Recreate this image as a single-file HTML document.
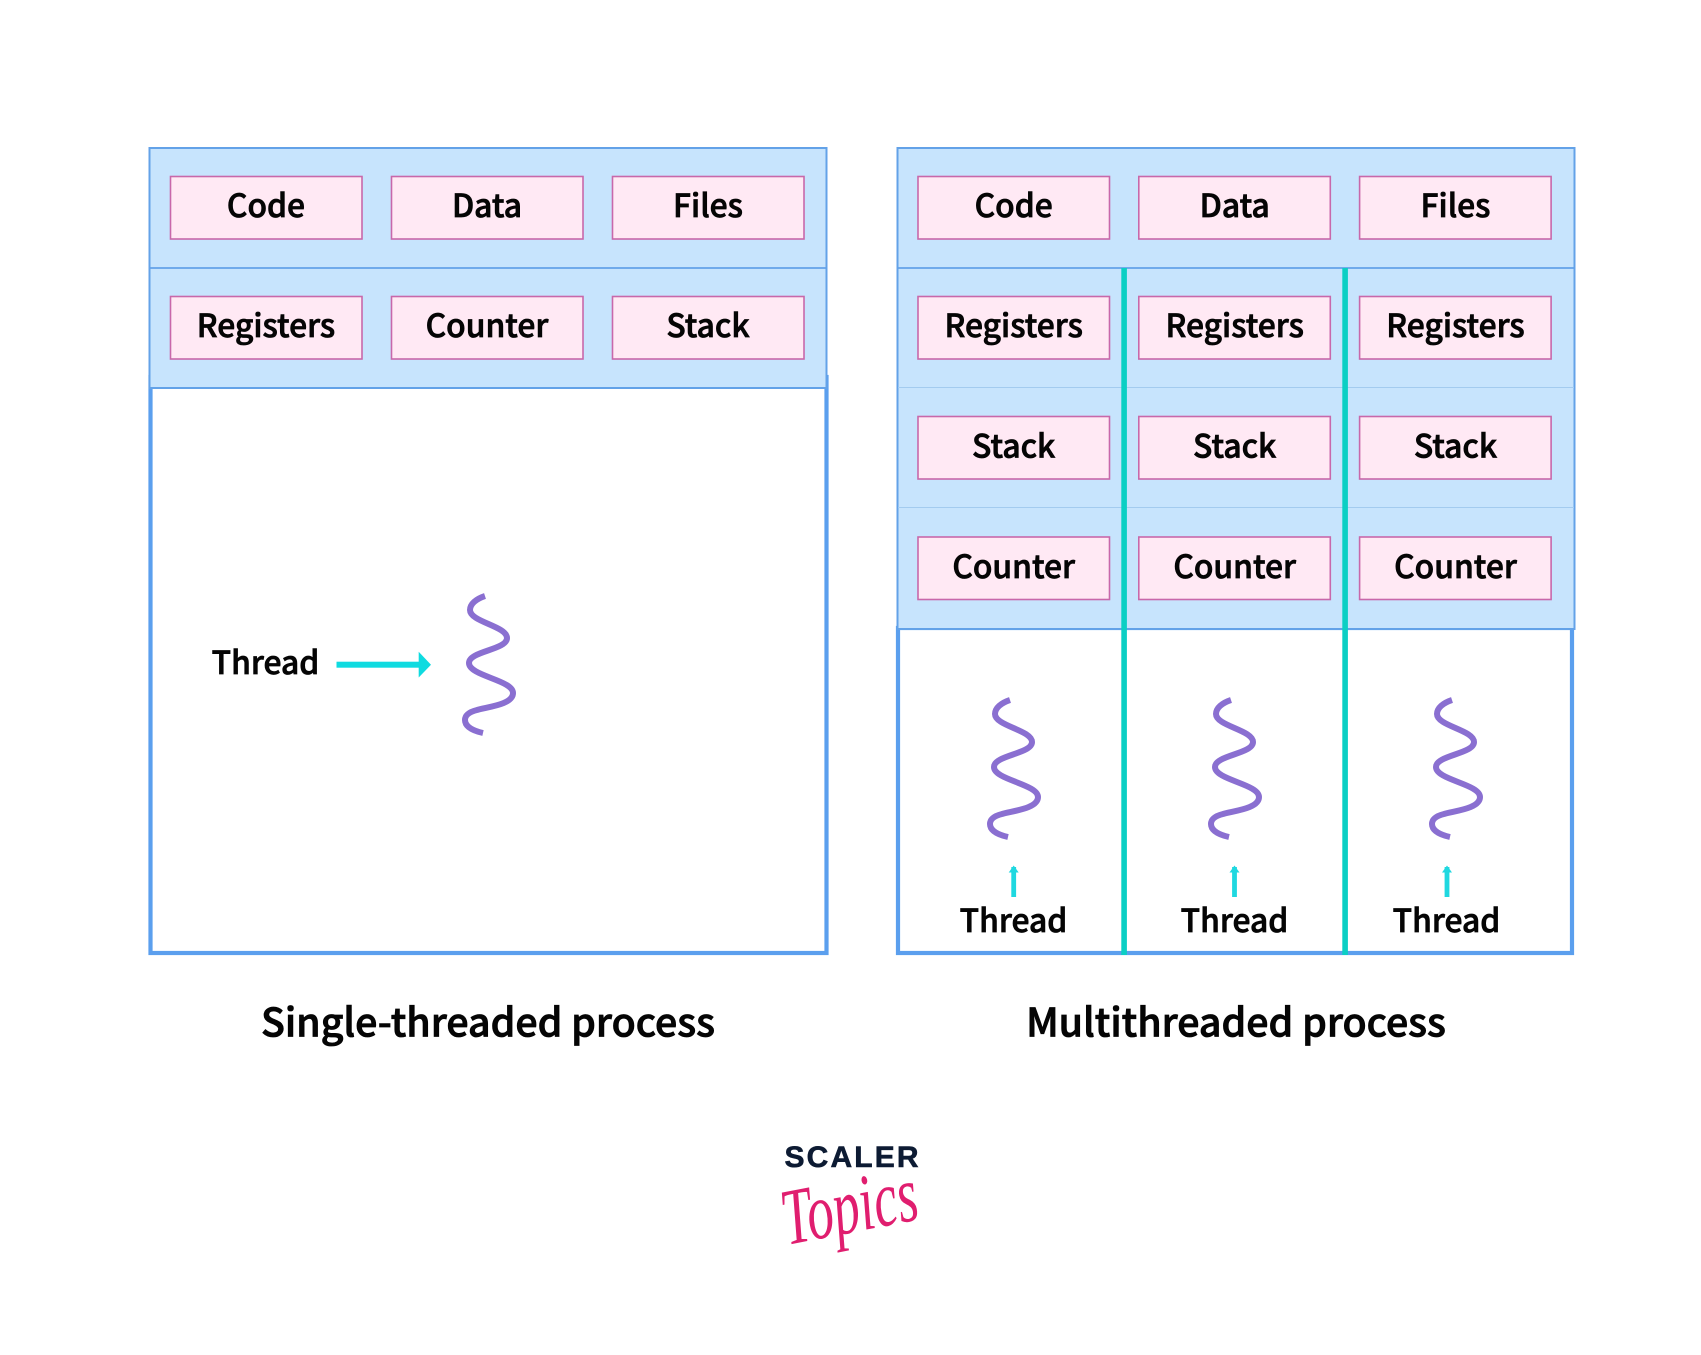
<!DOCTYPE html>
<html><head><meta charset="utf-8"><style>
html,body{margin:0;padding:0;background:#fff}
svg{display:block}
text{font-family:"Liberation Sans","Noto Sans CJK JP",sans-serif}
.n{font-family:"Noto Sans CJK JP","Liberation Sans",sans-serif;font-weight:500;fill:#050505;stroke:#050505;text-anchor:middle}
.l{font-size:31.8px;stroke-width:.75px}
.t{font-size:39.3px;stroke-width:.85px}
.b{fill:#ffe9f4;stroke:#c868aa;stroke-width:1.6}
.w{fill:none;stroke:#8a6fd1;stroke-width:6}
</style></head><body>
<svg width="1701" height="1355" viewBox="0 0 1701 1355" xmlns="http://www.w3.org/2000/svg">
<defs>
<path id="wave" d="M485 596C476 599 470 604 470 610C470 622 507 626 507 638C507 650 469 651 469 663C469 676 513 680 513 693C513 705 486 707 477 710C469 712 465 715 465 720C465 727 474 731 483 733"/>
<g id="up"><rect x="-2.4" y="-30" width="4.8" height="30" fill="#1fd8e0"/><path d="M0-31.5l5 7h-10z" fill="#1fd8e0"/></g>
</defs>
<rect width="1701" height="1355" fill="#fff"/>

<!-- Left panel -->
<rect x="150.5" y="377" width="676" height="576" fill="#fff" stroke="#5b9fee" stroke-width="4.2"/>
<rect x="149.5" y="148" width="677" height="240" fill="#c7e4fd" stroke="#63a2e8" stroke-width="2"/>
<line x1="149" y1="268" x2="827" y2="268" stroke="#63a2e8" stroke-width="1.8"/>
<rect class="b" x="170.5" y="176.5" width="191.5" height="62.5"/>
<rect class="b" x="391.5" y="176.5" width="191.5" height="62.5"/>
<rect class="b" x="612.5" y="176.5" width="191.5" height="62.5"/>
<rect class="b" x="170.5" y="296.5" width="191.5" height="62.5"/>
<rect class="b" x="391.5" y="296.5" width="191.5" height="62.5"/>
<rect class="b" x="612.5" y="296.5" width="191.5" height="62.5"/>
<text class="n l" x="266" y="217">Code</text>
<text class="n l" x="487" y="217">Data</text>
<text class="n l" x="708" y="217">Files</text>
<text class="n l" x="266" y="337">Registers</text>
<text class="n l" x="487" y="337">Counter</text>
<text class="n l" x="708" y="337">Stack</text>
<text class="n l" x="265.5" y="674">Thread</text>
<rect x="336.5" y="661.7" width="84" height="6" fill="#0fdbe0"/>
<path d="M418.7 651.7L431 664.7L418.7 677.5Z" fill="#0fdbe0"/>
<use href="#wave" class="w"/>

<!-- Right panel -->
<rect x="898" y="628" width="674" height="325" fill="#fff" stroke="#5b9fee" stroke-width="4.2"/>
<rect x="897.5" y="148" width="677" height="481" fill="#c7e4fd" stroke="#63a2e8" stroke-width="2"/>
<line x1="897" y1="268" x2="1575" y2="268" stroke="#63a2e8" stroke-width="1.8"/>
<line x1="898" y1="387.5" x2="1574" y2="387.5" stroke="#a3cbef" stroke-width="1"/>
<line x1="898" y1="507.5" x2="1574" y2="507.5" stroke="#a3cbef" stroke-width="1"/>
<rect x="1121.3" y="268" width="5.6" height="687" fill="#0bcfc4"/>
<rect x="1342.3" y="268" width="5.6" height="687" fill="#0bcfc4"/>

<rect class="b" x="918" y="176.5" width="191.5" height="62.5"/>
<rect class="b" x="1138.8" y="176.5" width="191.5" height="62.5"/>
<rect class="b" x="1359.6" y="176.5" width="191.5" height="62.5"/>
<rect class="b" x="918" y="296.5" width="191.5" height="62.5"/>
<rect class="b" x="1138.8" y="296.5" width="191.5" height="62.5"/>
<rect class="b" x="1359.6" y="296.5" width="191.5" height="62.5"/>
<rect class="b" x="918" y="416.5" width="191.5" height="62.5"/>
<rect class="b" x="1138.8" y="416.5" width="191.5" height="62.5"/>
<rect class="b" x="1359.6" y="416.5" width="191.5" height="62.5"/>
<rect class="b" x="918" y="537" width="191.5" height="62.5"/>
<rect class="b" x="1138.8" y="537" width="191.5" height="62.5"/>
<rect class="b" x="1359.6" y="537" width="191.5" height="62.5"/>

<text class="n l" x="1013.7" y="217">Code</text>
<text class="n l" x="1234.7" y="217">Data</text>
<text class="n l" x="1455.5" y="217">Files</text>
<text class="n l" x="1013.7" y="337">Registers</text>
<text class="n l" x="1234.7" y="337">Registers</text>
<text class="n l" x="1455.5" y="337">Registers</text>
<text class="n l" x="1013.7" y="457.5">Stack</text>
<text class="n l" x="1234.7" y="457.5">Stack</text>
<text class="n l" x="1455.5" y="457.5">Stack</text>
<text class="n l" x="1013.7" y="578">Counter</text>
<text class="n l" x="1234.7" y="578">Counter</text>
<text class="n l" x="1455.5" y="578">Counter</text>

<use href="#wave" class="w" x="525" y="104"/>
<use href="#wave" class="w" x="746" y="104"/>
<use href="#wave" class="w" x="967" y="104"/>
<use href="#up" x="1013.7" y="897"/>
<use href="#up" x="1234.5" y="897"/>
<use href="#up" x="1447" y="897"/>
<text class="n l" x="1013.5" y="932">Thread</text>
<text class="n l" x="1234.5" y="932">Thread</text>
<text class="n l" x="1446.5" y="932">Thread</text>

<text class="n t" x="488" y="1036.5">Single-threaded process</text>
<text class="n t" x="1236" y="1036.5">Multithreaded process</text>

<!-- Logo -->
<text x="784.5" y="1167" font-size="30" font-weight="700" fill="#0d1b33" stroke="#0d1b33" stroke-width=".6" textLength="134" lengthAdjust="spacing" style="font-family:'Liberation Sans',sans-serif">SCALER</text>
<text transform="translate(787 1245) rotate(-11)" font-size="80" fill="#e01e6f" textLength="137" lengthAdjust="spacingAndGlyphs" style="font-family:'Liberation Serif',serif;font-style:italic">Topics</text>
</svg>
</body></html>
